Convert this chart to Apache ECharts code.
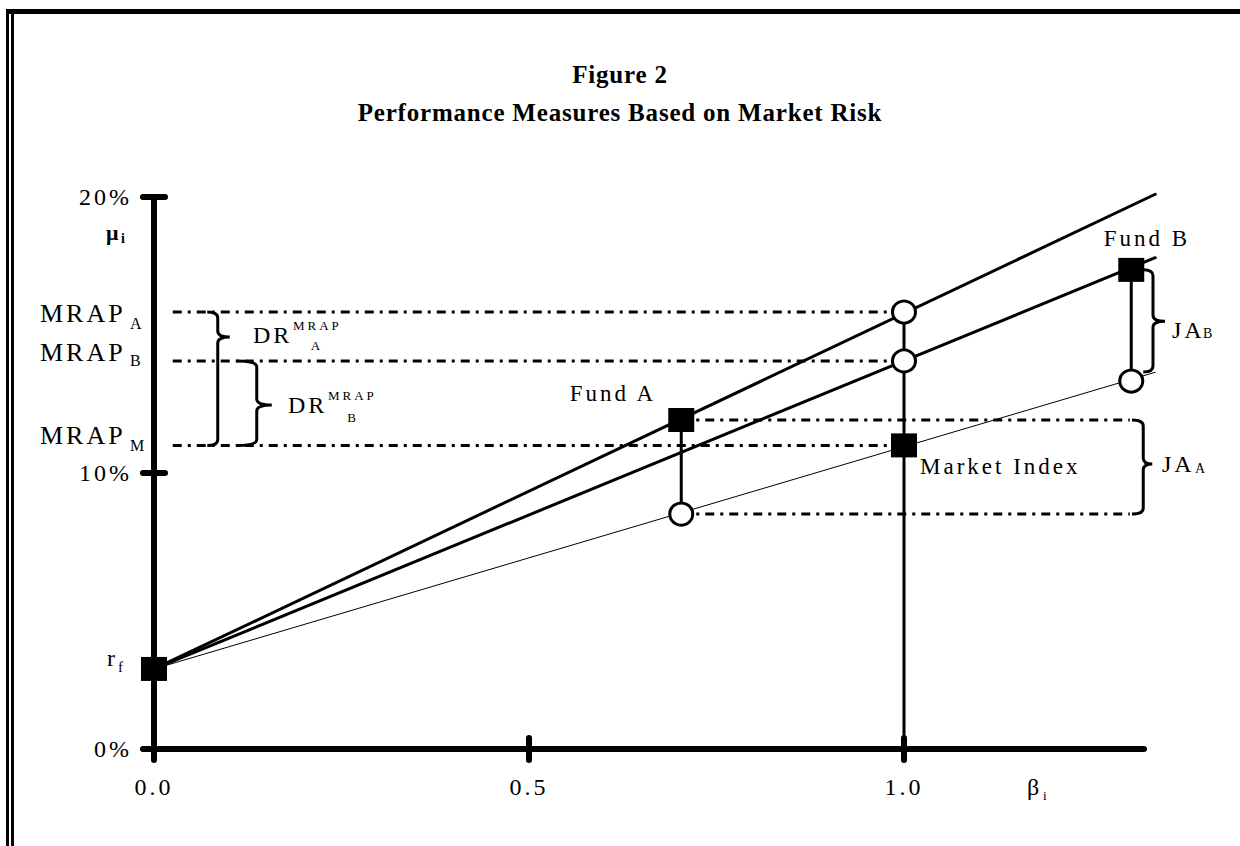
<!DOCTYPE html>
<html>
<head>
<meta charset="utf-8">
<script src="https://cdn.jsdelivr.net/npm/echarts@6/dist/echarts.min.js"></script>
<style>
  html, body { margin: 0; padding: 0; background: #fff; }
  #main { width: 1240px; height: 846px; }
  #main text { letter-spacing: 3px; }
  #main text[style*="bold"] { letter-spacing: 0.8px; }
</style>
</head>
<body>
<div id="main"></div>
<script>
// values (beta, return in %)
var riskFree = 2.9;
var fundBeta = [0.703, 1.303];          // Fund A, Fund B
var fundReturn = [11.92, 17.36];
var fundOnMarketLine = [8.51, 13.33];   // market line at the fund betas
var marketBeta = 1.0;
var marketReturn = 11.0;
var mrapValues = [15.83, 14.06, 11.0];  // MRAP_A, MRAP_B, MRAP_M
var lineEndBeta = 1.335;
var lineAEnd = 20.1;
var lineBEnd = 17.8;
var marketEnd = 13.65;
var mrapLineStart = 0.025;
var jaLineEnd = 1.301;
var axisEndBeta = 1.32;
var betaTicks = [0, 0.5, 1.0];
var betaTickLabels = ['0.0', '0.5', '1.0'];
var returnTicks = [0, 10, 20];
var returnTickLabels = ['0%', '10%', '20%'];

var FONT = '"Liberation Serif", "Times New Roman", serif';
var chart = echarts.init(document.getElementById('main'), null, { renderer: 'svg' });

function axisPair(kind, ticks, labels, showLabels, inside) {
  return {
    type: 'value',
    position: kind === 'x' ? 'bottom' : 'left',
    min: 0,
    max: kind === 'x' ? 1.36 : 20,
    axisLine: { show: kind === 'y', onZero: false, lineStyle: { color: '#000', width: 6, cap: 'round' } },
    axisTick: { show: true, inside: inside, length: 11, customValues: ticks,
      lineStyle: { color: '#000', width: 6, cap: 'round' } },
    axisLabel: { show: showLabels, customValues: ticks, margin: kind === 'x' ? 26 : 22,
      color: '#000', fontSize: 24, fontFamily: FONT,
      formatter: function (v) { return labels[ticks.indexOf(v)]; } },
    splitLine: { show: false }
  };
}

function seg(x1, y1, x2, y2) { return [[x1, y1], [x2, y2]]; }

function solid(data, w, z) {
  return { type: 'line', data: data, symbol: 'none', clip: false, silent: true, z: z || 3,
    lineStyle: { color: '#000', width: w, cap: 'round' } };
}
function dashDot(data) {
  return { type: 'line', data: data, symbol: 'none', clip: false, silent: true, z: 2,
    lineStyle: { color: '#000', width: 3, type: [9, 6, 3, 6] } };
}

// curly braces: [curl beta, spine beta, tip beta, top, tip, bottom]
var braces = [
  [0.071, 0.085, 0.101, mrapValues[0], 14.93, mrapValues[2]],
  [0.111, 0.137, 0.157, mrapValues[1], 12.46, mrapValues[2]],
  [1.304, 1.319, 1.331, fundReturn[0], 10.33, fundOnMarketLine[0]],
  [1.319, 1.332, 1.348, fundReturn[1], 15.5, 13.66]
];

function renderBrace(params, api) {
  var top = api.coord([api.value(0), api.value(3)]);
  var spineX = api.coord([api.value(1), 0])[0];
  var tip = api.coord([api.value(2), api.value(4)]);
  var botY = api.coord([0, api.value(5)])[1];
  var r = 6;
  var d = 'M' + top[0] + ',' + top[1] +
    ' Q' + spineX + ',' + top[1] + ' ' + spineX + ',' + (top[1] + r) +
    ' L' + spineX + ',' + (tip[1] - r) +
    ' Q' + spineX + ',' + tip[1] + ' ' + tip[0] + ',' + tip[1] +
    ' Q' + spineX + ',' + tip[1] + ' ' + spineX + ',' + (tip[1] + r) +
    ' L' + spineX + ',' + (botY - r) +
    ' Q' + spineX + ',' + botY + ' ' + top[0] + ',' + botY;
  return { type: 'path', shape: { pathData: d },
    style: { fill: 'none', stroke: '#000', lineWidth: 3 } };
}

function txt(x, y, s, size, align, bold) {
  return { type: 'text', x: x, y: y, silent: true, z: 10,
    style: { text: s, fill: '#000', font: (bold ? 'bold ' : '') + size + 'px ' + FONT,
      textAlign: align || 'left', textVerticalAlign: 'middle' } };
}

var graphics = [
  { type: 'rect', shape: { x: 6, y: 9, width: 1240, height: 5 }, style: { fill: '#000' } },
  { type: 'rect', shape: { x: 6, y: 9, width: 3, height: 840 }, style: { fill: '#000' } },
  { type: 'rect', shape: { x: 11, y: 14, width: 3, height: 840 }, style: { fill: '#000' } },
  txt(620, 74, 'Figure 2', 25, 'center', true),
  txt(620, 112, 'Performance Measures Based on Market Risk', 25, 'center', true),
  txt(106, 232, '\u03bc', 22, 'left', true),
  txt(121, 238, 'i', 14, 'left', true),
  txt(40, 313, 'MRAP', 26), txt(130, 323, 'A', 16),
  txt(40, 352, 'MRAP', 26), txt(130, 360, 'B', 16),
  txt(40, 435, 'MRAP', 26), txt(130, 445, 'M', 16),
  txt(253, 335, 'DR', 24), txt(293, 325, 'MRAP', 13), txt(317, 345, 'A', 13, 'center'),
  txt(288, 405, 'DR', 24), txt(328, 395, 'MRAP', 13), txt(353, 417, 'B', 13, 'center'),
  txt(1162, 464, 'JA', 24), txt(1195, 468, 'A', 14),
  txt(1172, 330, 'JA', 24), txt(1203, 333, 'B', 14),
  txt(613, 393, 'Fund A', 23, 'center'),
  txt(1147, 238, 'Fund B', 23, 'center'),
  txt(920, 466, 'Market Index', 23),
  txt(107, 658, 'r', 24), txt(118, 667, 'f', 15),
  txt(1027, 787, '\u03b2', 24), txt(1043, 795, 'i', 13)
];

var option = {
  animation: false,
  backgroundColor: '#fff',
  grid: { left: 154, top: 197, width: 1020, height: 552, containLabel: false },
  xAxis: [axisPair('x', betaTicks, betaTickLabels, true, false),
          axisPair('x', betaTicks, betaTickLabels, false, true)],
  yAxis: [axisPair('y', returnTicks, returnTickLabels, true, false),
          axisPair('y', returnTicks, returnTickLabels, false, true)],
  graphic: graphics,
  series: [
    solid(seg(0, 0, axisEndBeta, 0), 6, 1),
    solid(seg(0, riskFree, lineEndBeta, lineAEnd), 3),
    solid(seg(0, riskFree, lineEndBeta, lineBEnd), 3),
    solid(seg(0, riskFree, lineEndBeta, marketEnd), 1),
    solid(seg(marketBeta, 0, marketBeta, mrapValues[0]), 3),
    solid(seg(fundBeta[0], fundOnMarketLine[0], fundBeta[0], fundReturn[0]), 3),
    solid(seg(fundBeta[1], fundOnMarketLine[1], fundBeta[1], fundReturn[1]), 3),
    dashDot(seg(mrapLineStart, mrapValues[0], marketBeta, mrapValues[0])),
    dashDot(seg(mrapLineStart, mrapValues[1], marketBeta, mrapValues[1])),
    dashDot(seg(mrapLineStart, mrapValues[2], marketBeta, mrapValues[2])),
    dashDot(seg(fundBeta[0], fundReturn[0], jaLineEnd, fundReturn[0])),
    dashDot(seg(fundBeta[0], fundOnMarketLine[0], jaLineEnd, fundOnMarketLine[0])),
    { type: 'custom', renderItem: renderBrace, data: braces, silent: true, z: 4, clip: false },
    { type: 'scatter', silent: true, z: 6, symbol: 'circle', symbolSize: [23, 22],
      itemStyle: { color: '#fff', borderColor: '#000', borderWidth: 3, opacity: 1 },
      data: [[marketBeta, mrapValues[0]], [marketBeta, mrapValues[1]],
             [fundBeta[0], fundOnMarketLine[0]], [fundBeta[1], fundOnMarketLine[1]]] },
    { type: 'scatter', silent: true, z: 7, symbol: 'rect', symbolSize: [26, 24],
      itemStyle: { color: '#000', opacity: 1 },
      data: [[0, riskFree], [fundBeta[0], fundReturn[0]], [fundBeta[1], fundReturn[1]],
             [marketBeta, marketReturn]] }
  ]
};
chart.setOption(option);
</script>
</body>
</html>
